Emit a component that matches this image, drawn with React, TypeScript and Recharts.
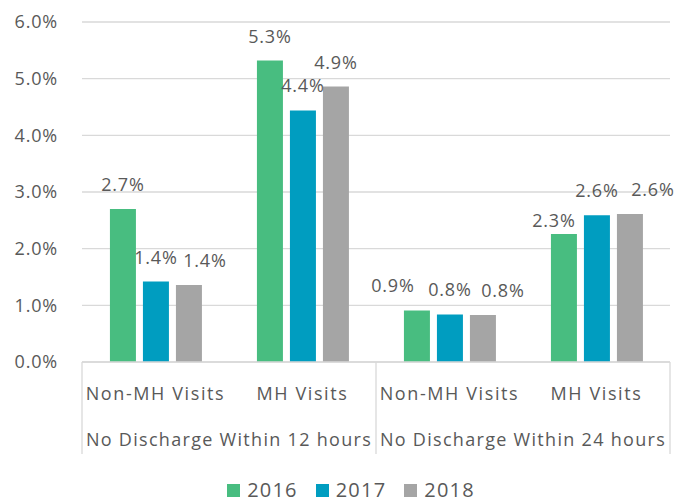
import { BarChart, Bar, XAxis, YAxis, CartesianGrid, LabelList } from 'recharts';

const subCategories = ['Non-MH Visits', 'MH Visits', 'Non-MH Visits', 'MH Visits'];
const groupCategories = [
  'No Discharge Within 12 hours',
  'No Discharge Within 12 hours',
  'No Discharge Within 24 hours',
  'No Discharge Within 24 hours',
];
const values2016 = [2.7, 5.32, 0.91, 2.26];
const values2017 = [1.42, 4.44, 0.84, 2.59];
const values2018 = [1.36, 4.86, 0.83, 2.61];
const yTicks = [0, 1, 2, 3, 4, 5, 6];

const SERIES = [
  { key: 'y2016', name: '2016', color: '#48BD80' },
  { key: 'y2017', name: '2017', color: '#009DC0' },
  { key: 'y2018', name: '2018', color: '#A5A5A5' },
];

// nudges so the labels sit where Excel pushed them to avoid overlaps
const labelNudge: Record<string, Record<number, [number, number]>> = {
  y2016: { 2: [-24, 0], 3: [-10, 11] },
  y2017: {},
  y2018: { 0: [16, 0], 2: [20, 0], 3: [23, 0] },
};

const data = subCategories.map((sub, i) => ({
  sub,
  group: groupCategories[i],
  y2016: values2016[i],
  y2017: values2017[i],
  y2018: values2018[i],
}));

const TEXT = '#595959';
const LINE = '#D9D9D9';
const FONT = '"Open Sans", sans-serif';

function makeLabel(key: string) {
  return (props: any) => {
    const { x, y, width, value, index } = props;
    const [dx, dy] = labelNudge[key][index] || [0, 0];
    return (
      <text x={x + width / 2 + dx} y={y - 25 + dy} textAnchor="middle" dominantBaseline="central"
        fill={TEXT} fontSize={18} letterSpacing={0.8} fontFamily={FONT}>
        {value.toFixed(1)}%
      </text>
    );
  };
}

function SubTick(props: any) {
  const { x, y, payload, index } = props;
  const half = payload.offset;
  return (
    <g>
      <text x={x} y={y + 31} textAnchor="middle" dominantBaseline="central"
        fill={TEXT} fontSize={18} letterSpacing={1.6} fontFamily={FONT}>
        {payload.value}
      </text>
      {index % 2 === 0 && <line x1={x - half} x2={x - half} y1={y} y2={y + 92} stroke={LINE} strokeWidth={1.3} />}
      {index === 3 && <line x1={x + half} x2={x + half} y1={y} y2={y + 92} stroke={LINE} strokeWidth={1.3} />}
    </g>
  );
}

function GroupTick(props: any) {
  const { x, y, payload, index } = props;
  if (index % 2 !== 0) return null;
  return (
    <text x={x + payload.offset} y={y + 31} textAnchor="middle" dominantBaseline="central"
      fill={TEXT} fontSize={18} letterSpacing={1.3} fontFamily={FONT}>
      {payload.value}
    </text>
  );
}

export default function App() {
  return (
    <div style={{ position: 'absolute', left: 0, top: 0, width: 680, height: 502, background: '#fff' }}>
      <BarChart width={680} height={502} data={data}
        margin={{ top: 22, right: 10, left: 0, bottom: 48 }}
        barCategoryGap="19%" barGap={7}>
        <CartesianGrid vertical={false} stroke={LINE} strokeWidth={1.3} />
        <YAxis domain={[0, 6]} ticks={yTicks} width={82} axisLine={false} tickLine={false}
          tickSize={0} tickMargin={24}
          tick={{ fill: TEXT, fontSize: 18, fontFamily: FONT, letterSpacing: 0.8 }}
          tickFormatter={(v: number) => `${v.toFixed(1)}%`} />
        <XAxis dataKey="sub" height={46} axisLine={{ stroke: LINE, strokeWidth: 1.3 }} tickLine={false}
          tickSize={0} tickMargin={0} interval={0} tick={<SubTick />} />
        <XAxis xAxisId="g" dataKey="group" height={46} axisLine={false} tickLine={false}
          tickSize={0} tickMargin={0} interval={0} tick={<GroupTick />} />
        {SERIES.map((s) => (
          <Bar key={s.key} dataKey={s.key} name={s.name} fill={s.color} isAnimationActive={false}>
            <LabelList dataKey={s.key} content={makeLabel(s.key)} />
          </Bar>
        ))}
      </BarChart>
      <div style={{ position: 'absolute', top: 477, left: 0, width: 702, display: 'flex', justifyContent: 'center',
        fontFamily: FONT, fontSize: 20, letterSpacing: 1.2, color: TEXT, lineHeight: '26px' }}>
        {SERIES.map((s) => (
          <div key={s.key} style={{ display: 'flex', alignItems: 'center', margin: '0 9px' }}>
            <span style={{ width: 13, height: 13, background: s.color, marginRight: 7 }} />
            <span>{s.name}</span>
          </div>
        ))}
      </div>
    </div>
  );
}
